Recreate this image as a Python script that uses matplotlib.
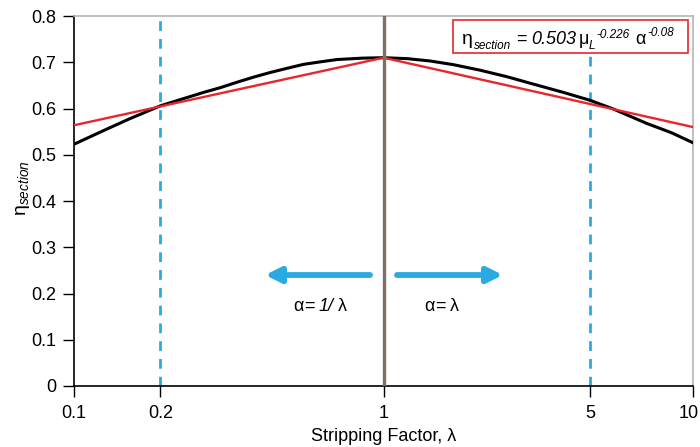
import matplotlib
matplotlib.use("Agg")
import matplotlib.pyplot as plt
from matplotlib.transforms import IdentityTransform, ScaledTranslation
from matplotlib.patches import Rectangle

plt.rcParams['font.family'] = ['Liberation Sans', 'DejaVu Sans']
plt.rcParams['mathtext.fontset'] = 'custom'
plt.rcParams['mathtext.rm'] = 'Liberation Sans'
plt.rcParams['mathtext.it'] = 'Liberation Sans:italic'
plt.rcParams['mathtext.bf'] = 'Liberation Sans:bold'

# ---- Data ----
lam_curve = [0.1, 0.125, 0.15, 0.19, 0.262, 0.296, 0.336, 0.38, 0.43, 0.487, 0.55, 0.624,
             0.706, 0.85, 1.0, 1.19, 1.41, 1.68, 2.05, 2.5, 2.97, 3.81, 4.64, 5.53,
             7.08, 8.5, 10.0]
eta_curve = [0.523, 0.553, 0.577, 0.606, 0.635, 0.645, 0.657, 0.668, 0.678, 0.687, 0.6955, 0.701,
             0.706, 0.709, 0.710, 0.708, 0.703, 0.695, 0.683, 0.669, 0.655, 0.635, 0.618, 0.599,
             0.568, 0.548, 0.526]
lam_corr = [0.1, 1.0, 10.0]
eta_corr = [0.564, 0.710, 0.560]
dashed_x = [0.19, 4.64]
center_x = 1.0
xticks = [0.1, 0.19, 1.0, 4.64, 10.0]
xtick_labels = ['0.1', '0.2', '1', '5', '10']
yticks = [0, 0.1, 0.2, 0.3, 0.4, 0.5, 0.6, 0.7, 0.8]
ytick_labels = ['0', '0.1', '0.2', '0.3', '0.4', '0.5', '0.6', '0.7', '0.8']

blue = '#29abe2'
red = '#e8262b'

fig = plt.figure(figsize=(7.0, 4.47), dpi=100)
ax = fig.add_axes([0.106, 0.1365, 0.884, 0.8275])

ax.plot(lam_curve, eta_curve, color='black', lw=2.2, zorder=3, solid_joinstyle='round')
ax.plot(lam_corr, eta_corr, color=red, lw=1.7, zorder=4)
for xv in dashed_x:
    ax.axvline(xv, color=blue, lw=2.0, dashes=(3.5, 2.9), zorder=2)
ax.axvline(center_x, color='#7d6f64', lw=2.4, zorder=5)

ax.set_xscale('log')
ax.set_xlim(0.1, 10)
ax.set_ylim(0, 0.8)
ax.set_xticks(xticks)
ax.set_xticklabels(xtick_labels)
ax.xaxis.set_minor_locator(matplotlib.ticker.NullLocator())
ax.set_yticks(yticks)
ax.set_yticklabels(ytick_labels)
ax.tick_params(axis='x', direction='out', length=8, width=1, labelsize=13, pad=6)
ax.tick_params(axis='y', direction='out', length=8, width=1, labelsize=13, pad=5)
# keep the last x tick label inside the picture
lab = ax.get_xticklabels()[-1]
lab.set_transform(lab.get_transform() + ScaledTranslation(-4 / 100, 0, fig.dpi_scale_trans))

for s in ['left', 'bottom']:
    ax.spines[s].set_color('black')
    ax.spines[s].set_linewidth(1.2)
for s in ['top', 'right']:
    ax.spines[s].set_color('#b5b5b5')
    ax.spines[s].set_linewidth(1.2)

ax.set_xlabel('Stripping Factor, λ', fontsize=13, labelpad=4)
ax.set_ylabel(r'$\mathrm{\eta}_{\mathit{section}}$', fontsize=14)
ax.yaxis.set_label_coords(-0.068, 0.535)

# arrows
ax.annotate('', xy=(0.414, 0.240), xytext=(0.904, 0.240),
            arrowprops=dict(arrowstyle='-|>,head_length=0.9,head_width=0.45', color=blue, lw=4.2,
                            shrinkA=0, shrinkB=0))
ax.annotate('', xy=(2.43, 0.240), xytext=(1.105, 0.240),
            arrowprops=dict(arrowstyle='-|>,head_length=0.9,head_width=0.45', color=blue, lw=4.2,
                            shrinkA=0, shrinkB=0))

renderer = fig.canvas.get_renderer()


def chain(x0, y0, pieces):
    x = x0
    for s, size, style, gap, dy in pieces:
        t = fig.text(x + gap, y0 + dy, s, fontsize=size, style=style,
                     transform=IdentityTransform(), ha='left', va='baseline', zorder=7)
        bb = t.get_window_extent(renderer)
        x = bb.x1


# alpha labels
px, py = ax.transData.transform((0.51, 0.162))
chain(px, py, [('α', 13, 'normal', 0, 0), ('=', 13, 'normal', 1, 0),
               ('1/', 13, 'italic', 4, 0), ('λ', 13, 'normal', 4, 0)])
px, py = ax.transData.transform((1.35, 0.162))
chain(px, py, [('α', 13, 'normal', 0, 0), ('=', 13, 'normal', 1, 0),
               ('λ', 13, 'normal', 4, 0)])

# equation box
ax.add_patch(Rectangle((0.612, 0.90), 0.380, 0.089, transform=ax.transAxes,
                       facecolor='white', edgecolor=red, lw=1.2, zorder=6))
px, py = ax.transAxes.transform((0.627, 0.924))
chain(px, py, [('η', 14, 'normal', 0, 0),
               ('section', 8.5, 'italic', 1, -5),
               ('=', 13, 'normal', 5, 0),
               ('0.503', 13, 'italic', 5, 0),
               ('μ', 13, 'normal', 2, 0),
               ('L', 8.5, 'italic', 0, -5),
               ('-0.226', 8.5, 'italic', 1, 6),
               ('α', 13, 'normal', 6, 0),
               ('-0.08', 8.5, 'italic', 1, 8)])

fig.savefig('out.png', dpi=100)
